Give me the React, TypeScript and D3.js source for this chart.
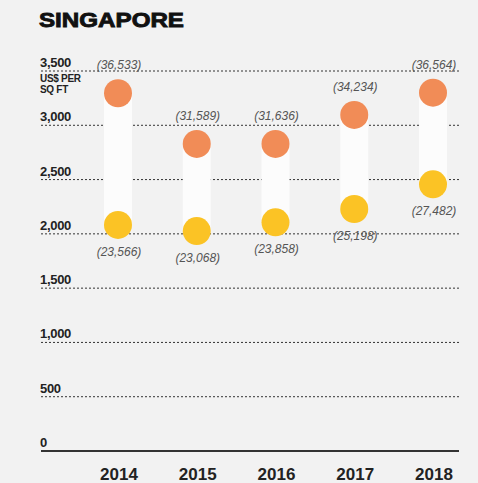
import React from "react";
import * as d3 from "d3";

const years = ["2014", "2015", "2016", "2017", "2018"];
const highValues = [3295, 2828, 2828, 3095, 3300];
const lowValues = [2082, 2026, 2106, 2229, 2456];
const highLabels = ["(36,533)", "(31,589)", "(31,636)", "(34,234)", "(36,564)"];
const lowLabels = ["(23,566)", "(23,068)", "(23,858)", "(25,198)", "(27,482)"];
const yTicks = [0, 500, 1000, 1500, 2000, 2500, 3000, 3500];
const title = "SINGAPORE";
const unitLines = ["US$ PER", "SQ FT"];

const W = 478;
const H = 483;

export default function App() {
  const x = d3.scalePoint<string>().domain(years).range([118, 433]);
  const y = d3.scaleLinear().domain([0, 3500]).range([451, 71]);
  const r = 14;
  const fmt = d3.format(",");
  const font = "'Liberation Sans', Arial, sans-serif";

  return (
    <svg
      width={W}
      height={H}
      style={{ position: "absolute", left: 0, top: 0, display: "block" }}
      fontFamily={font}
    >
      <rect x={0} y={0} width={W} height={H} fill="#f2f2f2" />
      <text
        x={39}
        y={27}
        fontSize={21}
        fontWeight={700}
        fill="#111"
        stroke="#111"
        strokeWidth={0.9}
        textLength={145}
        lengthAdjust="spacingAndGlyphs"
      >
        {title}
      </text>
      {yTicks.map((t) => (
        <g key={t}>
          {t > 0 ? (
            <line
              x1={41}
              x2={459}
              y1={y(t)}
              y2={y(t)}
              stroke="#333"
              strokeWidth={1}
              strokeDasharray="2,2"
            />
          ) : (
            <line x1={41} x2={459} y1={y(t)} y2={y(t)} stroke="#333" strokeWidth={2} />
          )}
          <text x={40} y={y(t) - 4} fontSize={13} fontWeight={700} fill="#222" letterSpacing={-0.3}>
            {fmt(t)}
          </text>
        </g>
      ))}
      {unitLines.map((l, i) => (
        <text key={l} x={40} y={y(3500) + 11 + i * 11} fontSize={10} fontWeight={700} fill="#222" letterSpacing={-0.3}>
          {l}
        </text>
      ))}
      {years.map((yr, i) => {
        const cx = x(yr) as number;
        const yh = y(highValues[i]);
        const yl = y(lowValues[i]);
        return (
          <g key={yr}>
            <rect x={cx - r} y={yh} width={2 * r} height={yl - yh} fill="#fcfcfc" />
            <circle cx={cx} cy={yh} r={r} fill="#f18c57" />
            <circle cx={cx} cy={yl} r={r} fill="#fbc325" />
            <text
              x={cx + 1}
              y={yh - r - 10}
              textAnchor="middle"
              fontSize={12}
              fontStyle="italic"
              fill="#555"
            >
              {highLabels[i]}
            </text>
            <text
              x={cx + 1}
              y={yl + r + 17}
              textAnchor="middle"
              fontSize={12}
              fontStyle="italic"
              fill="#555"
            >
              {lowLabels[i]}
            </text>
            <text x={cx + 1} y={480} textAnchor="middle" fontSize={17} fontWeight={700} fill="#222">
              {yr}
            </text>
          </g>
        );
      })}
    </svg>
  );
}
